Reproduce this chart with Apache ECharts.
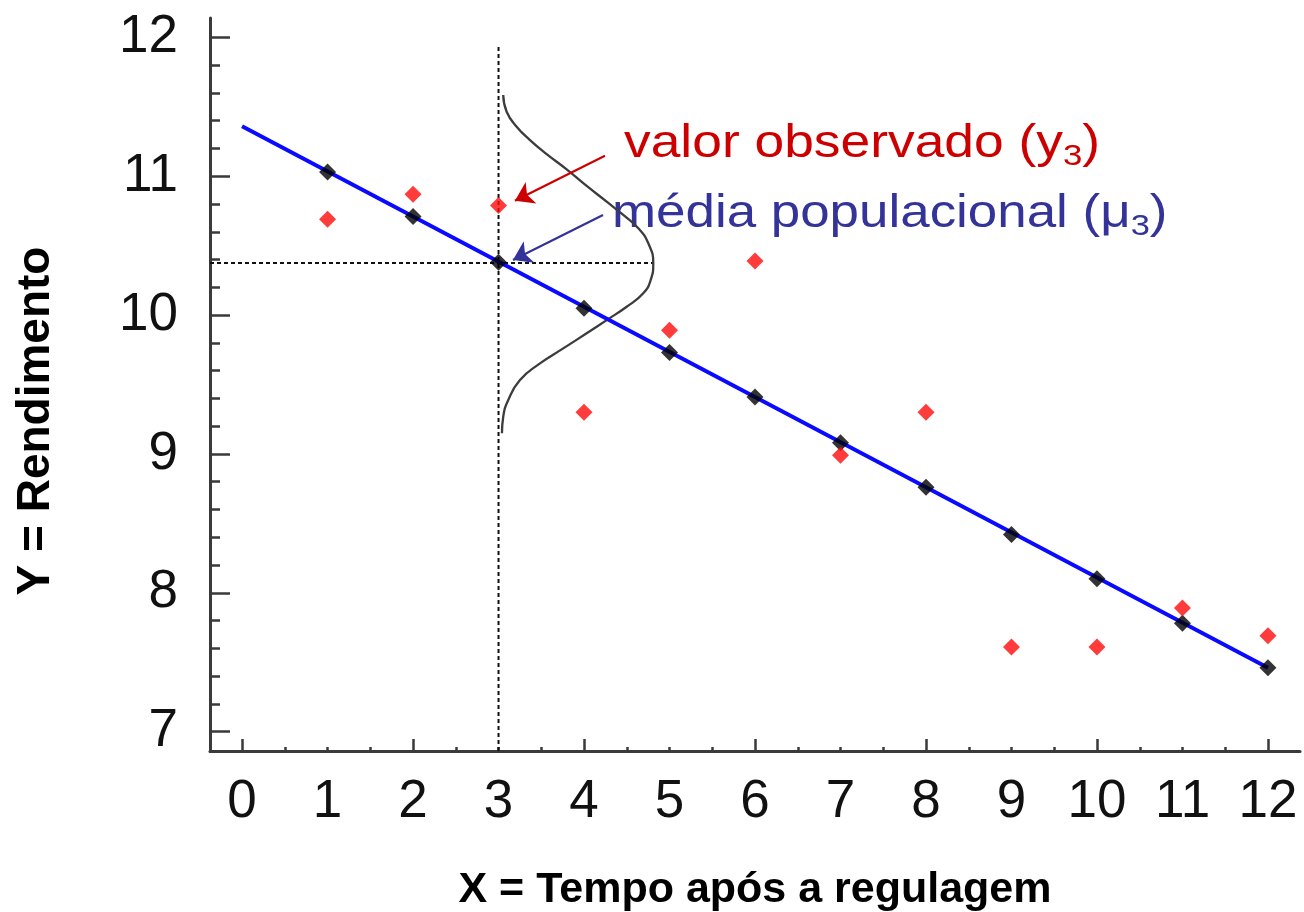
<!DOCTYPE html>
<html><head><meta charset="utf-8">
<script src="https://cdn.jsdelivr.net/npm/echarts@6/dist/echarts.min.js"></script>
<style>html,body{margin:0;padding:0;background:#fff}#c{width:1304px;height:912px}</style>
</head><body><div id="c"></div>
<script>
// ---- data ----
const xValues   = [1, 2, 3, 4, 5, 6, 7, 8, 9, 10, 11, 12];
const fittedY   = [11.03, 10.71, 10.38, 10.05, 9.73, 9.41, 9.08, 8.76, 8.42, 8.10, 7.78, 7.46];
const observedY = [10.69, 10.87, 10.79, 9.30, 9.89, 10.39, 8.99, 9.30, 7.61, 7.61, 7.89, 7.69];
const fitLineX  = [0, 12];
const fitLineY  = [11.36, 7.46];
const curveX = [3.055, 3.095, 3.212, 3.368, 3.563, 3.797, 4.031, 4.265, 4.459, 4.635, 4.752, 4.810,
                4.780, 4.693, 4.499, 4.265, 4.031, 3.757, 3.485, 3.251, 3.114, 3.055, 3.040];
const curveY = [11.585, 11.465, 11.357, 11.261, 11.160, 11.050, 10.930, 10.817, 10.721, 10.625, 10.517, 10.373,
                10.253, 10.157, 10.060, 9.964, 9.869, 9.760, 9.652, 9.532, 9.388, 9.268, 9.148];
const vGuideX = [3, 3];
const vGuideY = [6.86, 11.945];
const hGuideX = [-0.375, 4.81];
const hGuideY = [10.375, 10.375];
const redArrowX  = [4.245, 3.192];
const redArrowY  = [11.148, 10.824];
const blueArrowX = [4.222, 3.169];
const blueArrowY = [10.721, 10.397];
const xTickLabels = ['0','1','2','3','4','5','6','7','8','9','10','11','12'];
const yTickLabels = ['7','8','9','10','11','12'];
const xTitle = 'X = Tempo após a regulagem';
const yTitle = 'Y = Rendimento';

const FONT = "'Liberation Sans', Arial, sans-serif";
const AX = '#3a3a3a';
const pairs = (xs, ys) => xs.map((x, i) => [x, ys[i]]);

const chart = echarts.init(document.getElementById('c'), null, {renderer: 'canvas'});
const option = {
  animation: false,
  backgroundColor: '#ffffff',
  grid: [
    {left: 210, right: 4, top: 18, bottom: 161, outerBoundsMode: 'none'},
    {left: 242.1, right: 35.9, top: 37.4, bottom: 180.4, outerBoundsMode: 'none'}
  ],
  xAxis: [
    {gridIndex: 0, type: 'value', min: -0.375, max: 12.375,
     axisLine: {show: true, onZero: false, lineStyle: {color: AX, width: 3}},
     axisTick: {show: false}, axisLabel: {show: false}, splitLine: {show: false},
     name: xTitle, nameLocation: 'middle', nameGap: 118,
     nameTextStyle: {fontFamily: FONT, fontSize: 43, fontWeight: 'bold', color: '#000'}},
    {gridIndex: 1, type: 'value', min: 0, max: 12, interval: 2, position: 'bottom', offset: 19.4,
     axisLine: {show: false, onZero: false},
     axisTick: {show: true, inside: true, length: 12, lineStyle: {color: AX, width: 2.5}},
     minorTick: {show: true, splitNumber: 4, length: 4, lineStyle: {color: AX, width: 2.5}},
     axisLabel: {show: false}, splitLine: {show: false}},
    {gridIndex: 1, type: 'value', min: 0, max: 12, interval: 1, position: 'bottom', offset: 19.4,
     axisLine: {show: false, onZero: false}, axisTick: {show: false}, splitLine: {show: false},
     axisLabel: {show: true, margin: 25, fontFamily: FONT, fontSize: 53, color: '#111',
       formatter: v => xTickLabels[Math.round(v)]}}
  ],
  yAxis: [
    {gridIndex: 0, type: 'value', min: 6.86, max: 12.14,
     axisLine: {show: true, onZero: false, lineStyle: {color: AX, width: 3}},
     axisTick: {show: false}, axisLabel: {show: false}, splitLine: {show: false}},
    {gridIndex: 1, type: 'value', min: 7, max: 12, interval: 1, position: 'left', offset: 32.1,
     axisLine: {show: false, onZero: false},
     axisTick: {show: true, inside: true, length: 20, lineStyle: {color: AX, width: 2.5}},
     minorTick: {show: true, splitNumber: 5, length: 10, lineStyle: {color: AX, width: 2.5}},
     splitLine: {show: false},
     axisLabel: {show: true, margin: 32, fontFamily: FONT, fontSize: 53, color: '#111',
       formatter: v => yTickLabels[Math.round(v) - 7]}}
  ],
  series: [
    {type: 'line', name: 'guideV', xAxisIndex: 0, yAxisIndex: 0, data: pairs(vGuideX, vGuideY),
     showSymbol: false, silent: true, lineStyle: {color: '#111', width: 2, type: [4, 3]}, z: 1},
    {type: 'line', name: 'guideH', xAxisIndex: 0, yAxisIndex: 0, data: pairs(hGuideX, hGuideY),
     showSymbol: false, silent: true, lineStyle: {color: '#111', width: 2, type: [4, 3]}, z: 1},
    {type: 'line', name: 'normal', xAxisIndex: 0, yAxisIndex: 0, data: pairs(curveX, curveY),
     showSymbol: false, smooth: 0.5, silent: true, lineStyle: {color: '#3c3c3c', width: 2.3}, z: 2},
    {type: 'line', name: 'fit', xAxisIndex: 0, yAxisIndex: 0, data: pairs(fitLineX, fitLineY),
     showSymbol: false, silent: true, lineStyle: {color: '#0a0aff', width: 4}, z: 3},
    {type: 'scatter', name: 'fitted', xAxisIndex: 0, yAxisIndex: 0, data: pairs(xValues, fittedY),
     symbol: 'diamond', symbolSize: 17, itemStyle: {color: '#000'}, z: 4},
    {type: 'scatter', name: 'observed', xAxisIndex: 0, yAxisIndex: 0, data: pairs(xValues, observedY),
     symbol: 'diamond', symbolSize: 17, itemStyle: {color: '#ff0a0a'}, z: 5},
    {type: 'lines', coordinateSystem: 'cartesian2d', xAxisIndex: 0, yAxisIndex: 0,
     symbol: ['none', 'arrow'], symbolSize: 18, silent: true, z: 6,
     data: [
       {coords: pairs(redArrowX, redArrowY), lineStyle: {color: '#cc0000', width: 2.2, opacity: 1}},
       {coords: pairs(blueArrowX, blueArrowY), lineStyle: {color: '#333399', width: 2.2, opacity: 1}}
     ]}
  ],
  graphic: [
    {type: 'text', x: 36, y: 421, rotation: Math.PI / 2, silent: true,
     style: {text: yTitle, fontFamily: FONT, fontSize: 46, fontWeight: 'bold', fill: '#000',
             align: 'center', verticalAlign: 'middle', textAlign: 'center', textVerticalAlign: 'middle'}},
    {type: 'text', x: 624, y: 144, scaleX: 1.16, silent: true,
     style: {text: '{a|valor observado (y}{s|3}{a|)}', align: 'left', verticalAlign: 'middle',
             textAlign: 'left', textVerticalAlign: 'middle',
             rich: {a: {fontFamily: FONT, fontSize: 46, lineHeight: 56, verticalAlign: 'middle', fill: '#cc0000', color: '#cc0000'},
                    s: {fontFamily: FONT, fontSize: 30, lineHeight: 18, verticalAlign: 'bottom', fill: '#cc0000', color: '#cc0000'}}}},
    {type: 'text', x: 612, y: 214, scaleX: 1.15, silent: true,
     style: {text: '{a|média populacional (μ}{s|3}{a|)}', align: 'left', verticalAlign: 'middle',
             textAlign: 'left', textVerticalAlign: 'middle',
             rich: {a: {fontFamily: FONT, fontSize: 46, lineHeight: 56, verticalAlign: 'middle', fill: '#333399', color: '#333399'},
                    s: {fontFamily: FONT, fontSize: 30, lineHeight: 20, verticalAlign: 'bottom', fill: '#333399', color: '#333399'}}}}
  ]
};
chart.setOption(option);
</script>
</body></html>
